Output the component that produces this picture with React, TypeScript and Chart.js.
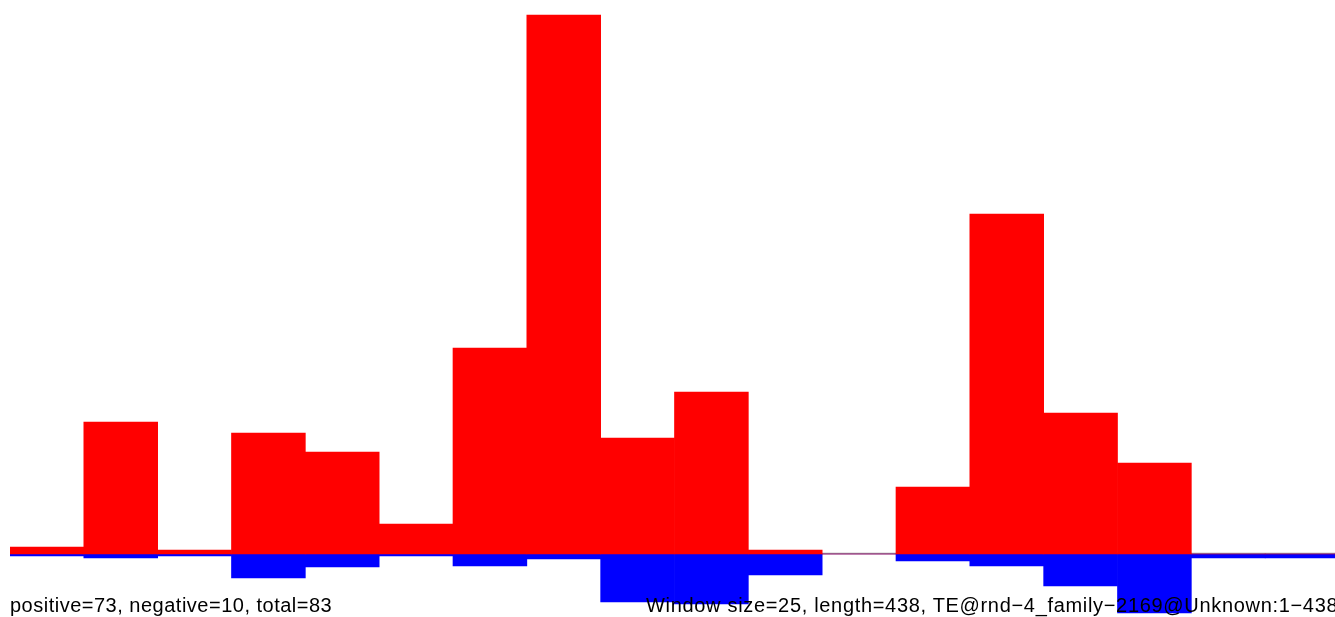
import React, { useEffect, useRef } from "react";
import { Chart, registerables } from "chart.js";

Chart.register(...registerables);

const categories: string[] = [
  "1", "2", "3", "4", "5", "6", "7", "8", "9",
  "10", "11", "12", "13", "14", "15", "16", "17", "18",
];
const positiveValues: number[] = [
  7, 132, 4, 121, 102, 30, 206, 539, 116, 162, 4, 0, 67, 340, 141, 91, 0, 0,
];
const negativeValues: number[] = [
  -2, -4, -2, -24, -13, -2, -12, -5, -48, -50, -21, 0, -7, -12, -32, -59, -4, -4,
];
const yMin = -63;
const yMax = 554;
const leftLabel = "positive=73, negative=10, total=83";
const rightLabel = "Window size=25, length=438, TE@rnd\u22124_family\u22122169@Unknown:1\u2212438";

const baselinePlugin = {
  id: "baseline",
  beforeDatasetsDraw(chart: any) {
    const { ctx, chartArea, scales } = chart;
    const y = scales.y.getPixelForValue(0);
    ctx.save();
    ctx.strokeStyle = "#a0a0a0";
    ctx.lineWidth = 1.5;
    ctx.beginPath();
    ctx.moveTo(chartArea.left, y - 0.5);
    ctx.lineTo(chartArea.right, y - 0.5);
    ctx.stroke();
    ctx.restore();
  },
};

export default function App() {
  const canvasRef = useRef<HTMLCanvasElement | null>(null);

  useEffect(() => {
    if (!canvasRef.current) return;
    const chart = new Chart(canvasRef.current, {
      type: "bar",
      data: {
        labels: categories,
        datasets: [
          {
            label: "positive",
            data: positiveValues,
            backgroundColor: "#ff0000",
            borderWidth: 0,
            barPercentage: 1,
            categoryPercentage: 1,
          },
          {
            label: "negative",
            data: negativeValues,
            backgroundColor: "#0000ff",
            borderWidth: 0,
            barPercentage: 1,
            categoryPercentage: 1,
          },
        ],
      },
      options: {
        animation: false,
        responsive: false,
        maintainAspectRatio: false,
        layout: { padding: 0 },
        plugins: {
          legend: { display: false },
          tooltip: { enabled: false },
          title: { display: false },
        },
        scales: {
          x: { display: false, stacked: true, offset: true },
          y: { display: false, stacked: true, min: yMin, max: yMax },
        },
      },
      plugins: [baselinePlugin],
    });
    return () => chart.destroy();
  }, []);

  const textStyle: React.CSSProperties = {
    position: "absolute",
    top: 595,
    fontFamily: '"Liberation Sans", Arial, Helvetica, sans-serif',
    fontSize: 20,
    lineHeight: "20px",
    letterSpacing: "0.5px",
    color: "#000",
    whiteSpace: "nowrap",
  };

  return (
    <div
      style={{
        position: "fixed",
        left: 0,
        top: 0,
        width: 1335,
        height: 617,
        overflow: "hidden",
        background: "#fff",
      }}
    >
      <div style={{ position: "absolute", left: 10, top: 0, width: 1329, height: 617 }}>
        <canvas ref={canvasRef} width={1329} height={617} style={{ display: "block" }} />
      </div>
      <div style={{ ...textStyle, left: 10 }}>{leftLabel}</div>
      <div style={{ ...textStyle, left: 646, letterSpacing: "0.68px" }}>{rightLabel}</div>
    </div>
  );
}
